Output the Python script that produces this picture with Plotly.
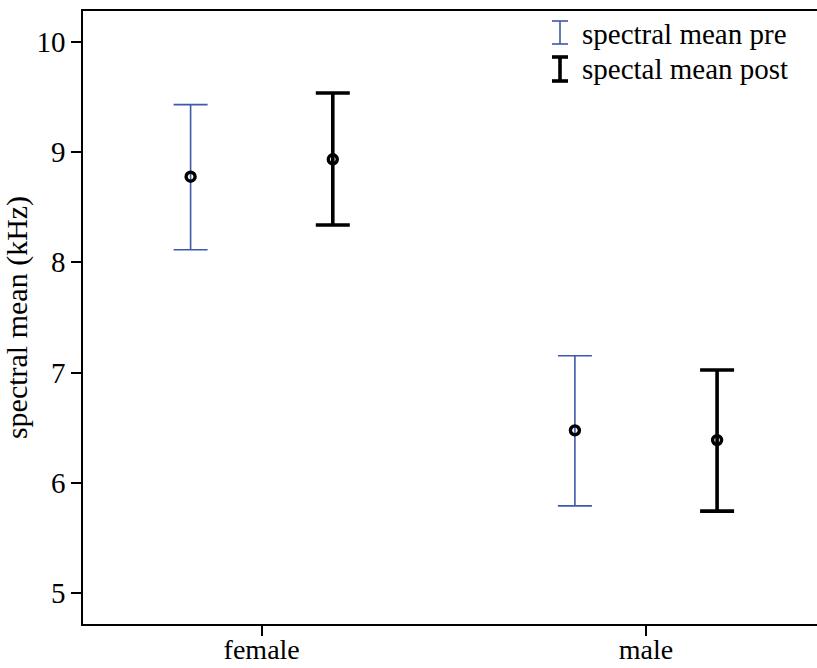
import plotly.graph_objects as go

# Group means with lower / upper interval bounds (kHz)
groups = ["female", "male"]
pre_mean = [8.776, 6.477]
pre_low = [8.114, 5.793]
pre_high = [9.429, 7.153]
post_mean = [8.934, 6.389]
post_low = [8.338, 5.745]
post_high = [9.535, 7.024]

series_names = ["spectral mean pre", "spectal mean post"]
y_ticks = [5, 6, 7, 8, 9, 10]

BLUE = "#3F59A9"
FONT = "Liberation Serif"
FS = 29
DODGE = 0.185

idx = list(range(len(groups)))

fig = go.Figure()


def add_series(means, lows, highs, shift, color, thick):
    fig.add_trace(go.Scatter(
        x=[i + shift for i in idx],
        y=means,
        mode="markers",
        showlegend=False,
        marker=dict(symbol="circle-open", size=9, color="black",
                    line=dict(width=3.4, color="black")),
        error_y=dict(type="data", symmetric=False,
                     array=[h - m for h, m in zip(highs, means)],
                     arrayminus=[m - l for m, l in zip(means, lows)],
                     color=color, thickness=thick, width=17),
    ))


add_series(pre_mean, pre_low, pre_high, -DODGE, BLUE, 1.6)
add_series(post_mean, post_low, post_high, DODGE, "black", 3.6)

# Legend key: small I-beam glyphs drawn in paper space
L, T, W, H = 83, 11, 734, 613


def px(x):
    return (x - L) / W


def py(y):
    return 1 - (y - T) / H


keys = [(BLUE, 1.6, 21, 44), ("black", 3.6, 57, 81)]
shapes = []
for color, lw, top, bot in keys:
    cx = 560
    shapes.append(dict(type="line", xref="paper", yref="paper",
                       x0=px(cx), x1=px(cx), y0=py(top), y1=py(bot),
                       line=dict(color=color, width=lw)))
    for yy in (top, bot):
        shapes.append(dict(type="line", xref="paper", yref="paper",
                           x0=px(cx - 8), x1=px(cx + 8), y0=py(yy), y1=py(yy),
                           line=dict(color=color, width=lw)))

annotations = []
for name, yc in zip(series_names, [34, 69]):
    annotations.append(dict(text=name, xref="paper", yref="paper",
                            x=px(580), y=py(yc), xanchor="left", yanchor="middle",
                            showarrow=False, font=dict(family=FONT, size=FS, color="black")))

fig.update_layout(
    width=817, height=668,
    margin=dict(l=L, r=0, t=T, b=668 - T - H),
    paper_bgcolor="white", plot_bgcolor="white",
    font=dict(family=FONT, size=FS, color="black"),
    shapes=shapes, annotations=annotations,
    xaxis=dict(range=[-0.465, 1.445], tickvals=idx, ticktext=groups,
               automargin=False, tickfont=dict(family=FONT, size=28, color="black"),
               ticklabelstandoff=-10,
               showgrid=False, zeroline=False, showline=True, mirror=True,
               linecolor="black", linewidth=1.5, ticks="outside", ticklen=10,
               tickwidth=1.5, tickcolor="black"),
    yaxis=dict(range=[4.722, 10.278], tickvals=y_ticks,
               automargin=False, tickfont=dict(family=FONT, size=FS, color="black"),
               showgrid=False, zeroline=False, showline=True,
               linecolor="black", linewidth=1.5, ticks="outside", ticklen=10,
               tickwidth=1.5, tickcolor="black",
               title=dict(text="spectral mean (kHz)", standoff=5,
                          font=dict(family=FONT, size=30, color="black"))),
)

fig.write_html("out.html")
